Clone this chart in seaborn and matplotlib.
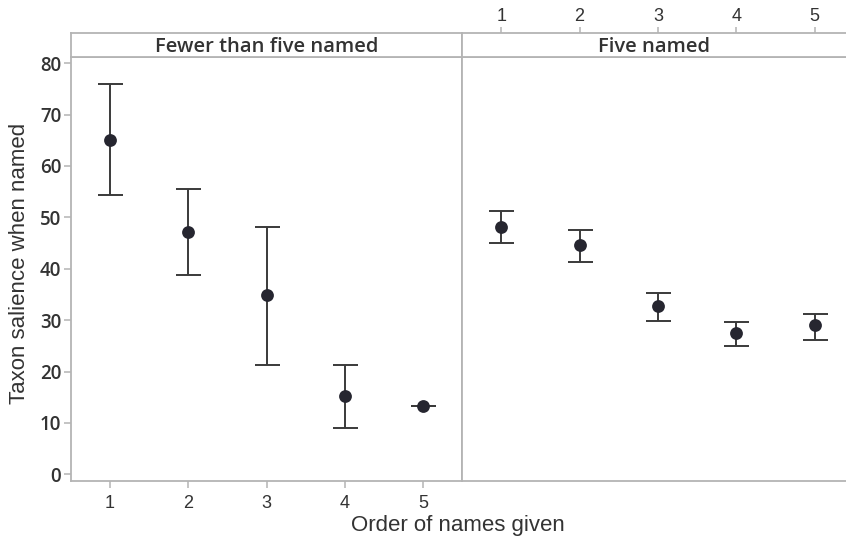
import numpy as np
import pandas as pd
import seaborn as sns
import matplotlib.pyplot as plt

# values
order = [1, 2, 3, 4, 5]
fewer_mean = [65.1, 47.2, 34.8, 15.3, 13.2]
fewer_low = [54.3, 38.8, 21.2, 9.1, 13.2]
fewer_high = [76.0, 55.5, 48.1, 21.3, 13.2]
five_mean = [48.1, 44.7, 32.7, 27.4, 29.0]
five_low = [45.0, 41.3, 29.8, 24.9, 26.1]
five_high = [51.2, 47.6, 35.2, 29.6, 31.2]
panel_titles = ["Fewer than five named", "Five named"]
yticks = [0, 10, 20, 30, 40, 50, 60, 70, 80]

sns.set_theme(style="white")
plt.rcParams["font.family"] = ["Liberation Sans", "DejaVu Sans"]

grey = "#b4b4b4"
ink = "#262630"
W, H = 846, 542
fig = plt.figure(figsize=(W / 100, H / 100), dpi=100)

def box(x0, x1, y_top, y_bot):
    return [x0 / W, (H - y_bot) / H, (x1 - x0) / W, (y_bot - y_top) / H]

ax1 = fig.add_axes(box(71, 462, 57, 481))
ax2 = fig.add_axes(box(462, 846, 57, 481), sharey=ax1)
st1 = fig.add_axes(box(71, 462, 33, 57))
st2 = fig.add_axes(box(462, 846, 33, 57))

panels = [
    (ax1, st1, fewer_mean, fewer_low, fewer_high, (0.5, 5.5)),
    (ax2, st2, five_mean, five_low, five_high, (0.5, 5.4)),
]

for i, (ax, st, m, lo, hi, xl) in enumerate(panels):
    df = pd.DataFrame({"order": order, "mean": m, "low": lo, "high": hi})
    yerr = np.array([df["mean"] - df["low"], df["high"] - df["mean"]])
    ax.errorbar(df["order"], df["mean"], yerr=yerr, fmt="none", ecolor="#3a3a3a",
                elinewidth=1.4, capsize=9, capthick=1.4, zorder=2)
    sns.scatterplot(data=df, x="order", y="mean", ax=ax, color=ink, s=85,
                    edgecolor=ink, linewidth=0, zorder=3)
    ax.set_xlim(*xl)
    ax.set_ylim(-1.3, 81.2)
    ax.set_xlabel("")
    ax.set_ylabel("")
    for sp in ax.spines.values():
        sp.set_color(grey)
        sp.set_linewidth(1.3)

    st.set_xlim(*xl)
    st.set_ylim(0, 1)
    st.set_yticks([])
    for sp in st.spines.values():
        sp.set_color(grey)
        sp.set_linewidth(1.3)
    st.text(3 if i == 0 else 2.95, 0.42, panel_titles[i], ha="center", va="center",
            fontsize=14.5, fontweight="semibold", family=["Open Sans", "DejaVu Sans"],
            color="#333333")

ax2.spines["right"].set_visible(False)
st2.spines["right"].set_visible(False)

# left panel: y ticks and bottom x ticks
ax1.set_yticks(yticks)
ax1.set_yticklabels([str(v) for v in yticks], family=["Open Sans", "DejaVu Sans"],
                    fontweight="semibold", fontsize=13.5, color="#333333")
ax1.tick_params(axis="y", left=True, length=5, width=1.1, color=grey, pad=2)
ax1.set_xticks(order)
ax1.set_xticklabels([str(v) for v in order], fontsize=13, color="#333333")
ax1.tick_params(axis="x", bottom=True, length=5, width=1.1, color=grey, pad=5)

# right panel: no ticks on axes, x ticks on top of strip
ax2.tick_params(axis="both", left=False, bottom=False, labelleft=False, labelbottom=False)
st1.set_xticks([])
st2.set_xticks(order)
st2.xaxis.tick_top()
st2.set_xticklabels([str(v) for v in order], fontsize=13, color="#333333")
st2.tick_params(axis="x", top=True, length=4, width=1.1, color=grey, pad=2)

fig.text(458 / W, 1 - 526 / H, "Order of names given", ha="center", va="center",
         fontsize=16, color="#333333")
fig.text(20 / W, 1 - 263 / H, "Taxon salience when named", ha="center", va="center",
         rotation=90, fontsize=16, color="#333333")

fig.savefig("out.png", dpi=100)
